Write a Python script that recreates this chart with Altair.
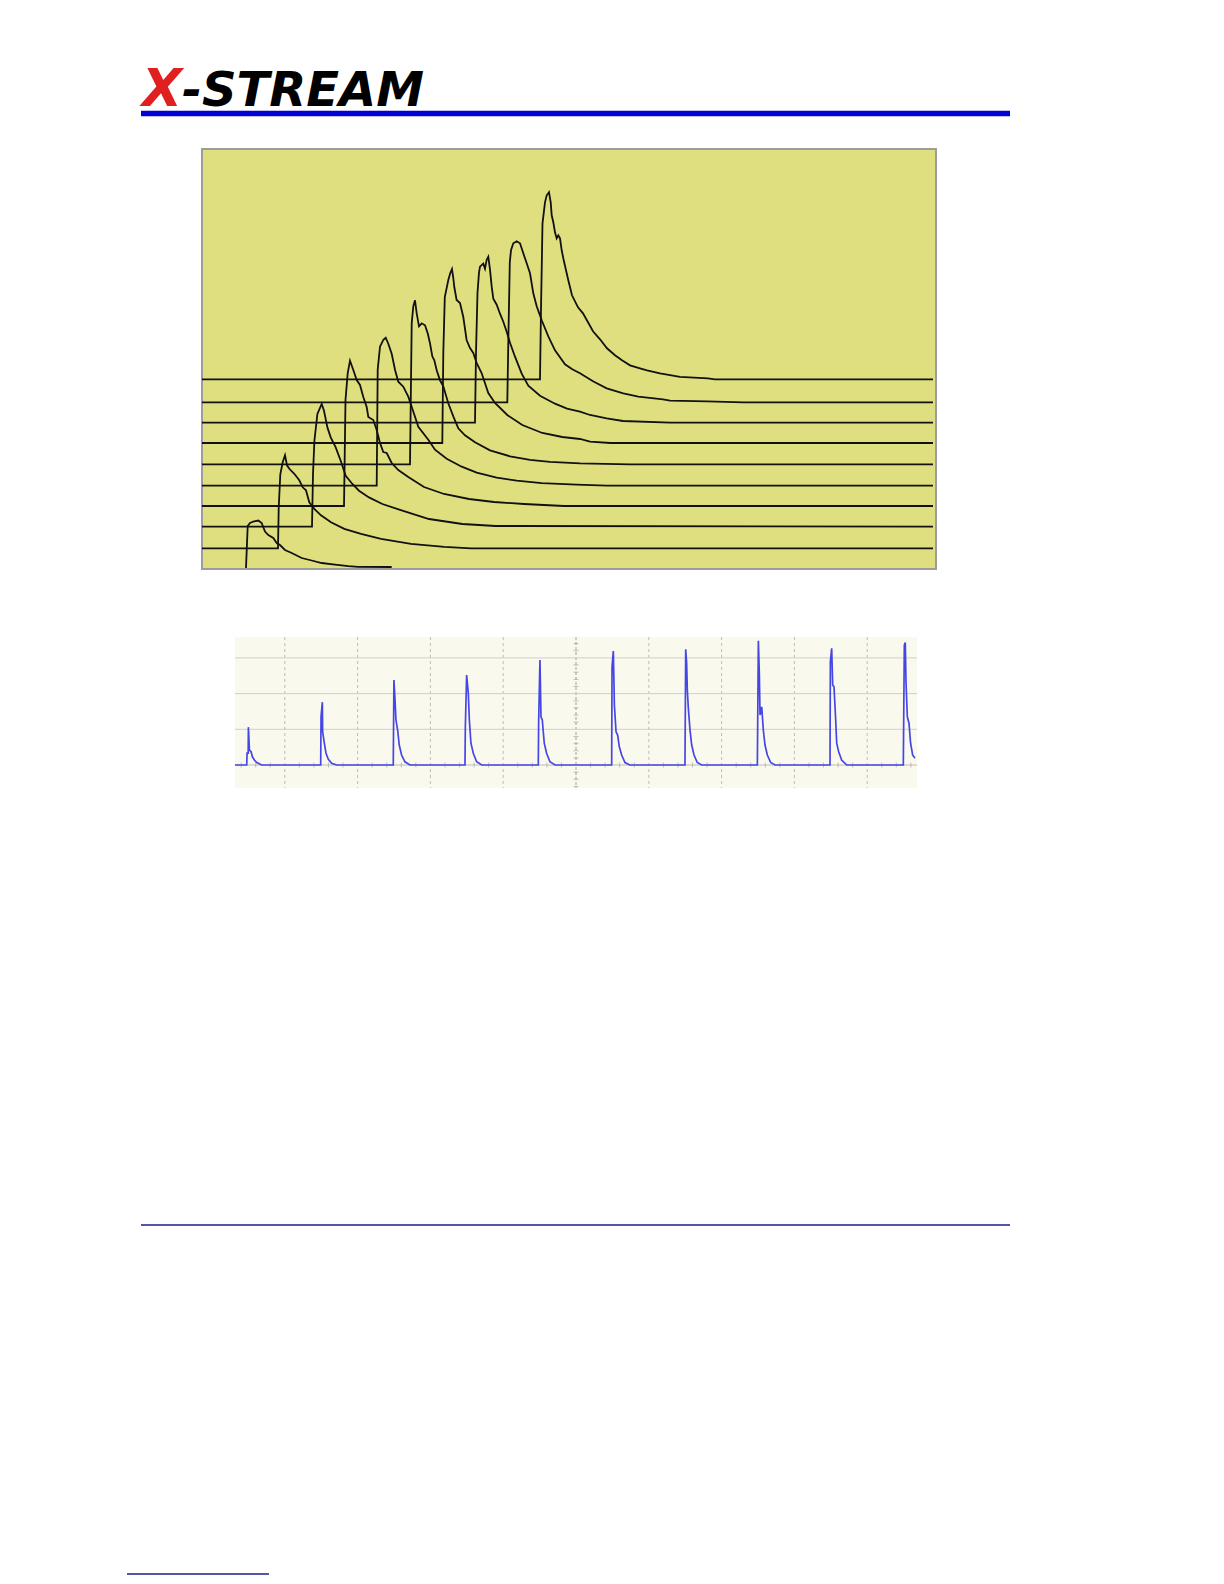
import altair as alt
import pandas as pd

# ---------------- Waterfall panel (top) ----------------
# horizontal / vertical offset of each trace (rise position & baseline)
trace_x_offset = [0, 32, 66, 98, 130.7, 164, 196.3, 229, 261.3, 294]
trace_y_offset = [0, 19.7, 41.3, 62, 82.3, 103.7, 125, 145.3, 165.7, 188.7]

tr0_t = [0, 1.7, 4, 7.3, 12.3, 15.7, 19, 22.3, 27.3, 30.7, 34, 39, 45.7, 55.7, 65.7, 75.7, 89, 102.3, 112.3, 145.7]
tr0_v = [0, 42, 45, 46.5, 47.5, 45, 36.5, 33, 30, 25, 23, 18, 15, 10, 7.5, 5, 3.3, 1.8, 1.2, 1]

tr1_t = [-400, 0, 0.7, 2.3, 4.7, 7, 9, 11.3, 16.3, 21.3, 24.7, 28, 31.3, 36.3, 43, 53, 66.3, 83, 103, 133, 166.3, 193, 800]
tr1_v = [0, 0, 40, 74, 86, 93, 83, 79.5, 74.5, 68, 61, 58, 46, 39.5, 33, 26, 19.5, 14.5, 9.5, 4.5, 1.5, 0, 0]

tr2_t = [-400, 0, 1, 2.4, 5.4, 9.7, 12, 15.4, 18.7, 23.7, 28.7, 33.7, 40.4, 47, 57, 70.4, 90.4, 117, 150.4, 183.7, 800]
tr2_v = [0, 0, 52.7, 86, 112.7, 122.7, 116, 99.3, 89.3, 79.3, 66, 51, 42.7, 36, 29.3, 22.7, 16, 7.7, 2.7, 0.7, 0]

tr3_t = [-400, 0, 1.5, 3.7, 6, 9.3, 12.7, 16, 19.3, 22.7, 24.3, 29.3, 32.7, 36, 39.3, 42.7, 47.7, 54.3, 64.3, 80, 100, 125, 150, 180, 220, 800]
tr3_v = [0, 0, 106, 132.7, 145.3, 136, 126, 121, 109, 99, 89, 86, 76, 63, 54, 53, 43, 36, 29, 19, 12, 7, 4, 2, 0, 0]

tr4_t = [-400, 0, 1, 3.3, 6.7, 9, 11.6, 15, 18.3, 21.6, 26.6, 31.6, 35, 38.3, 41.6, 51.6, 58.3, 70, 85, 100, 120, 140, 165, 200, 230, 800]
tr4_v = [0, 0, 116, 139, 146, 148, 142, 132, 116, 104, 99, 89, 79, 69, 59, 46, 36, 27, 19, 13, 8, 5, 2.5, 1, 0, 0]

tr5_t = [-400, 0, 1.7, 3.3, 5, 6.7, 9, 11.7, 15, 17.7, 20, 22.3, 24.3, 26.7, 30, 33.3, 38.3, 43.3, 48.3, 55, 65, 80, 100, 120, 140, 170, 220, 800]
tr5_v = [0, 0, 141, 158, 164, 151, 138, 141, 139, 131, 121, 108, 104, 94, 84, 78, 61, 48, 36, 29, 22, 14, 8, 4.5, 2.5, 1, 0, 0]

tr6_t = [-400, 0, 1, 2.5, 6, 8, 9.7, 11, 12, 14.3, 17.7, 21, 24.3, 27.7, 31, 34.3, 39.3, 46, 52.7, 65, 80, 100, 120, 137.7, 147.7, 168, 800]
tr6_v = [0, 0, 90, 146, 163, 170, 174, 165, 156, 143, 140, 126, 103, 95, 90, 80, 70, 50, 40, 28, 18, 10, 6, 4, 1.3, 0, 0]

tr7_t = [-400, 0, 1, 2.5, 4, 5, 8.3, 10, 11.7, 13.3, 15, 16.7, 18.3, 21.7, 25, 28.3, 31.7, 35, 40, 46.7, 53.3, 65, 80, 92, 105, 115, 131.7, 148, 195, 800]
tr7_v = [0, 0, 70, 130, 150, 156, 159, 154, 163, 166, 153, 136, 124, 118, 109, 101, 91, 80, 66, 49, 37, 27, 19, 14, 11, 7.7, 4.4, 1.7, 0, 0]

tr8_t = [-400, 0, 1, 2.5, 3.7, 6, 9.4, 12.7, 16, 19.4, 22.7, 26, 29.4, 34.4, 41, 47.7, 57.7, 65, 72.7, 85.7, 99.4, 116, 131, 155.7, 162.7, 200, 235.7, 800]
tr8_v = [0, 0, 60, 140, 152, 159, 161, 159, 149, 139, 129, 109, 96, 82, 66, 52, 38, 33, 29, 21, 14, 9, 5.6, 3, 1.6, 1, 0, 0]

tr9_t = [-400, 0, 1, 2.5, 5, 6.7, 9, 10.7, 11.7, 13.3, 15, 16.7, 18.3, 20, 21.7, 23.3, 26, 28.3, 32, 38, 43, 48, 53, 60, 67, 75, 82, 90, 100, 107, 120, 140, 168, 175, 800]
tr9_v = [0, 0, 70, 156, 177, 184, 187, 177, 164, 157, 147, 141, 144, 141, 129, 121, 109, 99, 84, 72, 66, 57, 48, 40, 31, 24, 19, 14, 11, 9, 6, 2.5, 1, 0, 0]

wf_t = [tr0_t, tr1_t, tr2_t, tr3_t, tr4_t, tr5_t, tr6_t, tr7_t, tr8_t, tr9_t]
wf_v = [tr0_v, tr1_v, tr2_v, tr3_v, tr4_v, tr5_v, tr6_v, tr7_v, tr8_v, tr9_v]

# ---------------- Scope panel (bottom) ----------------
pulse_start = [-4.523, -3.507, -2.51, -1.525, -0.518, 0.490, 1.497, 2.491, 3.489, 4.496]
p1_t = [0, 0.005, 0.02, 0.023, 0.037, 0.06, 0.078, 0.105, 0.137, 0.206]
p1_v = [0, 0.33, 0.33, 1.06, 0.42, 0.37, 0.23, 0.14, 0.07, 0]
p2_t = [0, 0.005, 0.023, 0.027, 0.05, 0.073, 0.105, 0.151, 0.22]
p2_v = [0, 1.36, 1.76, 0.93, 0.61, 0.33, 0.16, 0.05, 0]
p3_t = [0, 0.009, 0.023, 0.037, 0.06, 0.082, 0.114, 0.16, 0.23]
p3_v = [0, 2.38, 1.87, 1.26, 0.98, 0.56, 0.28, 0.09, 0]
p4_t = [0, 0.005, 0.023, 0.046, 0.06, 0.082, 0.114, 0.16, 0.23]
p4_v = [0, 1.07, 2.52, 2.0, 1.26, 0.61, 0.33, 0.09, 0]
p5_t = [0, 0.005, 0.023, 0.037, 0.055, 0.082, 0.114, 0.16, 0.23]
p5_v = [0, 1.21, 2.94, 1.35, 1.26, 0.61, 0.33, 0.09, 0]
p6_t = [0, 0.005, 0.023, 0.037, 0.06, 0.082, 0.105, 0.137, 0.183, 0.25]
p6_v = [0, 2.75, 3.19, 1.68, 0.93, 0.84, 0.51, 0.28, 0.07, 0]
p7_t = [0, 0.01, 0.023, 0.032, 0.046, 0.069, 0.092, 0.124, 0.169, 0.229]
p7_v = [0, 3.24, 2.85, 2.1, 1.59, 0.98, 0.56, 0.28, 0.07, 0]
p8_t = [0, 0.014, 0.027, 0.037, 0.06, 0.082, 0.105, 0.137, 0.183, 0.243]
p8_v = [0, 3.48, 2.57, 1.4, 1.63, 0.98, 0.56, 0.28, 0.07, 0]
p9_t = [0, 0.005, 0.023, 0.037, 0.055, 0.078, 0.092, 0.119, 0.16, 0.229]
p9_v = [0, 2.9, 3.27, 2.24, 2.19, 1.26, 0.61, 0.37, 0.14, 0]
p10_t = [0, 0.014, 0.027, 0.037, 0.055, 0.078, 0.1, 0.128, 0.16]
p10_v = [0, 3.36, 3.43, 2.33, 1.35, 1.17, 0.61, 0.28, 0.19]
pulse_t = [p1_t, p2_t, p3_t, p4_t, p5_t, p6_t, p7_t, p8_t, p9_t, p10_t]
pulse_v = [p1_v, p2_v, p3_v, p4_v, p5_v, p6_v, p7_v, p8_v, p9_v, p10_v]

grid_x = [-4, -3, -2, -1, 1, 2, 3, 4]
grid_y = [1, 2, 3]
scope_x_domain = [-4.684, 4.684]
scope_y_domain = [-0.644, 3.585]

# ---------------- build tables ----------------
rows = []
for i, (ts, vs) in enumerate(zip(wf_t, wf_v)):
    for k, (t, v) in enumerate(zip(ts, vs)):
        rows.append({"trace": i, "k": k, "x": t + trace_x_offset[i], "y": v + trace_y_offset[i]})
wf = pd.DataFrame(rows)

srows = [{"k": 0, "x": scope_x_domain[0], "y": 0.0}]
for p in range(len(pulse_start)):
    for t, v in zip(pulse_t[p], pulse_v[p]):
        srows.append({"k": len(srows), "x": pulse_start[p] + t, "y": v})
scope = pd.DataFrame(srows)

minor_x = [round(-4.6 + 0.2 * j, 2) for j in range(47)]
minor_y = [round(-0.6 + 0.2 * j, 2) for j in range(21)]
mx = pd.DataFrame({"x": [m for m in minor_x if abs(m - round(m)) > 1e-6]})
my = pd.DataFrame({"y": [m for m in minor_y if abs(m - round(m)) > 1e-6]})

one = pd.DataFrame({"a": [0]})

# ---------------- page decorations ----------------
logo_x = alt.Chart(one).mark_text(
    text="X", font="DejaVu Sans", fontSize=52, fontWeight="bold", fontStyle="italic",
    color="#e02020", align="left", baseline="alphabetic"
).encode(x=alt.value(134), y=alt.value(98))
logo_rest = alt.Chart(one).mark_text(
    text="-STREAM", font="DejaVu Sans", fontSize=48, fontWeight="bold", fontStyle="italic",
    color="#000000", align="left", baseline="alphabetic"
).encode(x=alt.value(174), y=alt.value(98))
header_bar = alt.Chart(one).mark_rule(color="#0000d8", strokeWidth=5.5).encode(
    x=alt.value(133), x2=alt.value(1002), y=alt.value(105.5))
footer_line = alt.Chart(one).mark_rule(color="#1c1c8c", strokeWidth=1.5).encode(
    x=alt.value(133), x2=alt.value(1002), y=alt.value(1217))
bottom_line = alt.Chart(one).mark_rule(color="#1c1c8c", strokeWidth=1.5).encode(
    x=alt.value(119), x2=alt.value(261), y=alt.value(1566))

# ---------------- waterfall ----------------
wf_bg = alt.Chart(one).mark_rect(fill="#e0df80", stroke="#9c9c9c", strokeWidth=2).encode(
    x=alt.value(194), x2=alt.value(928), y=alt.value(141), y2=alt.value(561))
wf_x = alt.X("x:Q", axis=None, scale=alt.Scale(domain=[-44, 687], range=[194, 925], clamp=True, nice=False, zero=False))
wf_y = alt.Y("y:Q", axis=None, scale=alt.Scale(domain=[0, 419], range=[560, 141], nice=False, zero=False))
wf_lines = alt.Chart(wf).mark_line(color="#111111", strokeWidth=1.8).encode(
    x=wf_x, y=wf_y, detail="trace:N", order="k:Q")

# ---------------- scope ----------------
sx = alt.Scale(domain=scope_x_domain, range=[227, 909], nice=False, zero=False)
sy = alt.Scale(domain=scope_y_domain, range=[780, 629], nice=False, zero=False)
scope_bg = alt.Chart(one).mark_rect(fill="#faf9ee").encode(
    x=alt.value(227), x2=alt.value(909), y=alt.value(629), y2=alt.value(780))
vgrid = alt.Chart(pd.DataFrame({"x": grid_x})).mark_rule(color="#bdbdb8", strokeWidth=1, strokeDash=[3, 3]).encode(
    x=alt.X("x:Q", axis=None, scale=sx), y=alt.value(629), y2=alt.value(780))
vcenter = alt.Chart(pd.DataFrame({"x": [0]})).mark_rule(color="#a0a09c", strokeWidth=1, strokeDash=[3, 2]).encode(
    x=alt.X("x:Q", axis=None, scale=sx), y=alt.value(629), y2=alt.value(780))
hgrid = alt.Chart(pd.DataFrame({"y": grid_y})).mark_rule(color="#d0d0ca", strokeWidth=1).encode(
    y=alt.Y("y:Q", axis=None, scale=sy), x=alt.value(227), x2=alt.value(909))
hcenter = alt.Chart(pd.DataFrame({"y": [0]})).mark_rule(color="#bcbcb8", strokeWidth=1).encode(
    y=alt.Y("y:Q", axis=None, scale=sy), x=alt.value(227), x2=alt.value(909))
ticks_x = alt.Chart(mx).mark_tick(orient="vertical", size=5, thickness=1, color="#a8a8a4").encode(
    x=alt.X("x:Q", axis=None, scale=sx), y=alt.value(757))
ticks_y = alt.Chart(my).mark_tick(orient="horizontal", size=5, thickness=1, color="#a8a8a4").encode(
    y=alt.Y("y:Q", axis=None, scale=sy), x=alt.value(568))
scope_line = alt.Chart(scope).mark_line(color="#4646e6", strokeWidth=1.7).encode(
    x=alt.X("x:Q", axis=None, scale=sx), y=alt.Y("y:Q", axis=None, scale=sy), order="k:Q")
scope_group = alt.layer(vgrid, vcenter, hgrid, hcenter, ticks_x, ticks_y, scope_line)

chart = alt.layer(
    logo_x, logo_rest, header_bar, wf_bg, wf_lines, scope_bg, scope_group, footer_line, bottom_line
).resolve_scale(x="independent", y="independent").properties(
    width=1208, height=1568, autosize=alt.AutoSizeParams(type="none"), padding=0
).configure_view(strokeWidth=0)

chart.save("out.html", embed_options={"renderer": "svg", "actions": False})
